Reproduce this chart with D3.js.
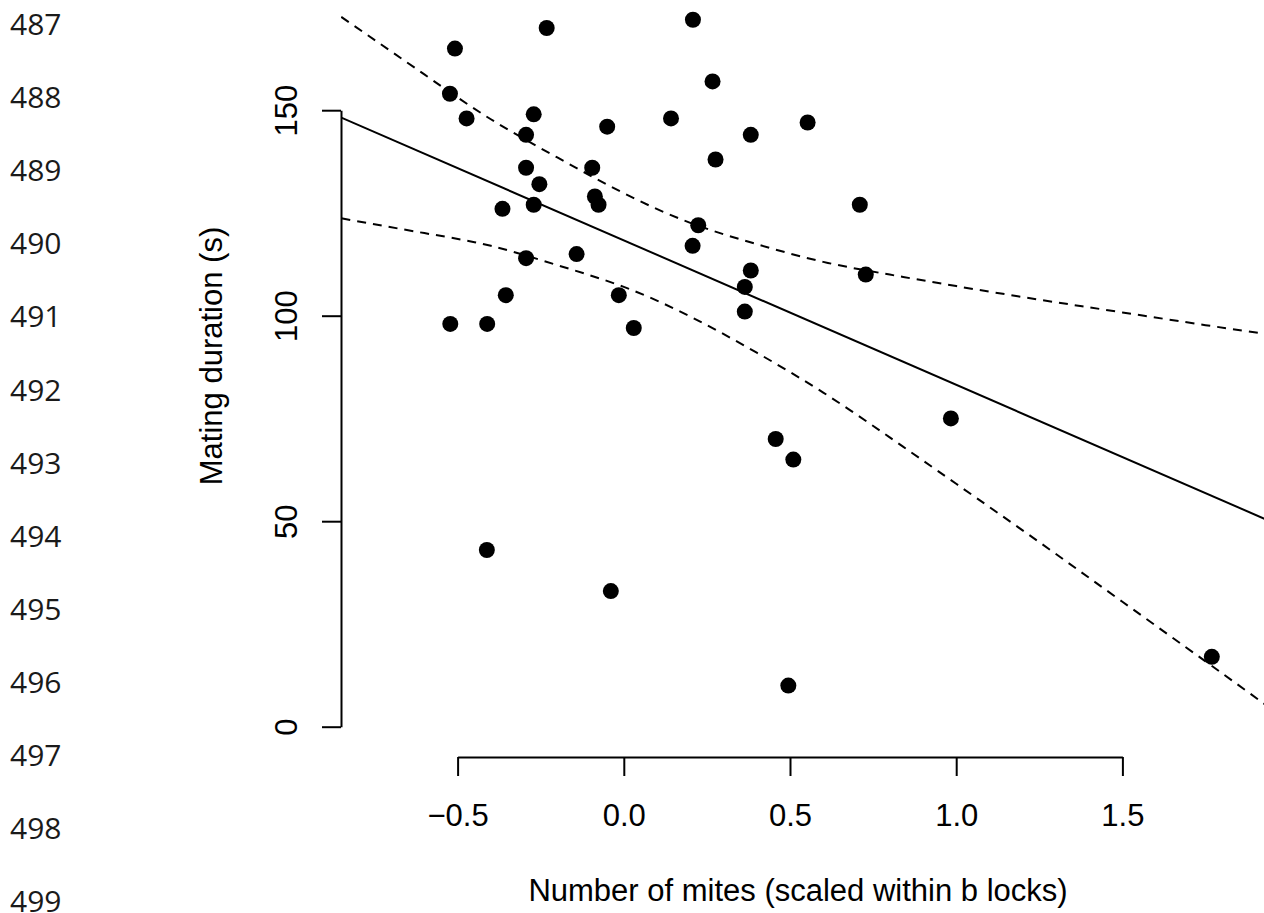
<!DOCTYPE html>
<html>
<head>
<meta charset="utf-8">
<script src="https://cdn.jsdelivr.net/npm/d3@7"></script>
<style>
    html, body { margin: 0; padding: 0; background: #fff; }
    svg { display: block; }
</style>
</head>
<body>
<div id="container"></div>
<script>

// manuscript line numbers down the left margin
const lineNumbers = [487, 488, 489, 490, 491, 492, 493, 494, 495, 496, 497, 498, 499];

// scaled mite count vs mating duration (s)
const mites = [-0.508, -0.232, 0.208, -0.523, 0.267, -0.473, -0.271, -0.050, 0.142, -0.294,
    0.382, 0.553, 0.276, -0.294, -0.095, -0.254, -0.087, -0.076, -0.365, -0.271,
    0.710, 0.224, 0.207, -0.142, -0.294, 0.382, 0.728, 0.364, -0.355, -0.015,
    0.364, -0.522, -0.411, 0.030, 0.984, 0.457, 0.510, -0.412, -0.039, 1.769, 0.495];
const duration = [165, 170, 172, 154, 157, 148, 149, 146, 148, 144,
    144, 147, 138, 136, 136, 132, 129, 127, 126, 127,
    127, 122, 117, 115, 114, 111, 110, 107, 105, 105,
    101, 98, 98, 97, 75, 70, 65, 43, 33, 17, 10];

// fitted line and its confidence band
const fitX = [-0.85, 1.95];
const fitY = [148.2, 49.8];
const bandX = [-0.85, -0.6, -0.4, -0.2, 0, 0.2, 0.4, 0.6, 0.8, 1.0, 1.25, 1.5, 1.75, 1.95];
const bandUpper = [172.7, 158.7, 147.8, 138.5, 129.8, 122.6, 117.4, 113.1, 110.0, 107.2, 103.9, 100.8, 97.7, 95.4];
const bandLower = [123.7, 120.1, 117.0, 112.3, 107.0, 99.8, 91.0, 81.3, 70.4, 59.1, 44.9, 30.4, 15.9, 4.2];

const xTicks = [-0.5, 0, 0.5, 1, 1.5];
const yTicks = [0, 50, 100, 150];

const width = 1264;
const height = 913;
const plotLeft = 341;
const plotBottom = 757;
const FONT = '"Liberation Sans", Arial, Helvetica, sans-serif';

const svg = d3.select('#container')
    .append('svg')
    .attr('width', width)
    .attr('height', height)
    .attr('viewBox', [0, 0, width, height]);

const x = d3.scaleLinear().domain([-0.5, 1.5]).range([457.6, 1122.4]);
const y = d3.scaleLinear().domain([0, 150]).range([726.7, 110.2]);

// line numbers
svg.append('g')
    .selectAll('text')
    .data(lineNumbers)
    .join('text')
    .attr('x', 10)
    .attr('y', (d, i) => 35 + i * 73.1)
    .attr('font-family', '"Open Sans", "Noto Sans", sans-serif')
    .attr('font-size', 30)
    .attr('fill', '#1a1a1a')
    .text(d => d);

svg.append('clipPath')
    .attr('id', 'plot-clip')
    .append('rect')
    .attr('x', plotLeft)
    .attr('y', -60)
    .attr('width', width - plotLeft + 20)
    .attr('height', plotBottom + 60);

const plot = svg.append('g').attr('clip-path', 'url(#plot-clip)');

const bandLine = (vals) => d3.line()
    .x((d, i) => x(bandX[i]))
    .y(d => y(d))
    .curve(d3.curveNatural)(vals);

plot.append('path')
    .attr('d', bandLine(bandUpper))
    .attr('fill', 'none')
    .attr('stroke', '#000')
    .attr('stroke-width', 2)
    .attr('stroke-dasharray', '9,7');

plot.append('path')
    .attr('d', bandLine(bandLower))
    .attr('fill', 'none')
    .attr('stroke', '#000')
    .attr('stroke-width', 2)
    .attr('stroke-dasharray', '9,7');

plot.append('line')
    .attr('x1', x(fitX[0]))
    .attr('y1', y(fitY[0]))
    .attr('x2', x(fitX[1]))
    .attr('y2', y(fitY[1]))
    .attr('stroke', '#000')
    .attr('stroke-width', 2);

svg.append('g')
    .selectAll('circle')
    .data(mites)
    .join('circle')
    .attr('cx', d => x(d))
    .attr('cy', (d, i) => y(duration[i]))
    .attr('r', 8)
    .attr('fill', '#000');

// axes, R style: line only between first and last tick
const xAxis = svg.append('g')
    .attr('transform', `translate(0,${plotBottom})`)
    .call(d3.axisBottom(x).tickValues(xTicks).tickSize(19).tickSizeOuter(0)
        .tickFormat(d => d3.format('.1f')(d).replace('-', '\u2212')));

xAxis.selectAll('text')
    .attr('y', 69)
    .attr('dy', 0)
    .attr('font-size', 31)
    .attr('font-family', FONT)
    .attr('fill', '#000');

const yAxis = svg.append('g')
    .attr('transform', `translate(${plotLeft},0)`)
    .call(d3.axisLeft(y).tickValues(yTicks).tickSize(19).tickSizeOuter(0));

yAxis.selectAll('text')
    .attr('x', 0)
    .attr('y', 0)
    .attr('dy', 0)
    .attr('text-anchor', 'middle')
    .attr('transform', 'translate(-44.3,0) rotate(-90)')
    .attr('font-size', 31)
    .attr('font-family', FONT)
    .attr('fill', '#000');

svg.selectAll('.domain, .tick line')
    .attr('stroke', '#000')
    .attr('stroke-width', 2);

// titles are centred on the plot region, which runs off the right and top edges
svg.append('text')
    .attr('x', 798)
    .attr('y', 901)
    .attr('text-anchor', 'middle')
    .attr('font-size', 31)
    .attr('font-family', FONT)
    .text('Number of mites (scaled within b locks)');

svg.append('text')
    .attr('transform', 'translate(221.7,356) rotate(-90)')
    .attr('text-anchor', 'middle')
    .attr('font-size', 31)
    .attr('font-family', FONT)
    .text('Mating duration (s)');

</script>
</body>
</html>
